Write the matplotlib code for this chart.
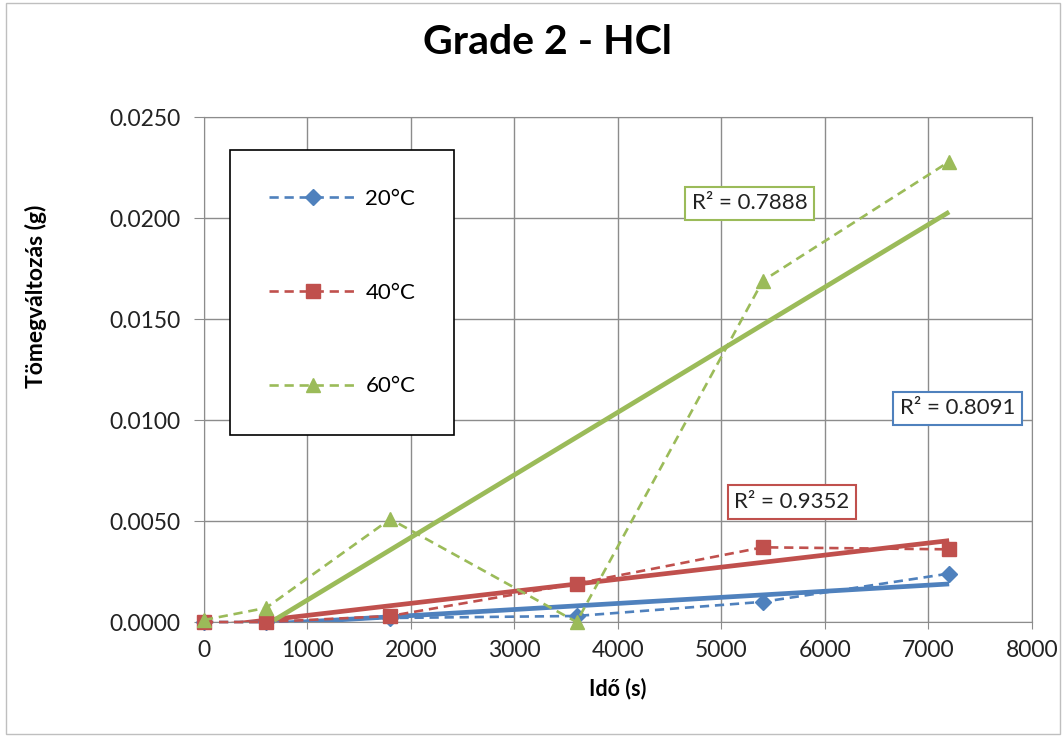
import numpy as np
import matplotlib
matplotlib.use("Agg")
import matplotlib.pyplot as plt

plt.rcParams["font.family"] = ["Lato", "DejaVu Sans"]

time_s = [0, 600, 1800, 3600, 5400, 7200]
y20 = [0.0000, 0.0000, 0.0002, 0.0003, 0.0010, 0.0024]
y40 = [0.0000, 0.0000, 0.0003, 0.0019, 0.0037, 0.0036]
y60 = [0.0001, 0.0007, 0.0051, 0.0000, 0.0169, 0.0228]
labels = ["20°C", "40°C", "60°C"]
r2_text = ["R² = 0.8091", "R² = 0.9352", "R² = 0.7888"]
r2_pos = [(7280, 0.01059), (5680, 0.00594), (5270, 0.02074)]

COLS = ["#4F81BD", "#C0504D", "#9BBB59"]
MARK = ["D", "s", "^"]
MS = [8, 10, 10.5]
GRID = "#8c8c8c"

fig = plt.figure(figsize=(10.64, 7.37), dpi=100)
ax = fig.add_axes([0.1917, 0.156, 0.7782, 0.685])
fig.patches.append(plt.Rectangle((0.006, 0.004), 0.99, 0.992, transform=fig.transFigure,
                                 fill=False, ec="#bfbfbf", lw=1))

x = np.array(time_s, dtype=float)
for ys, c, m, ms, lab in zip([y20, y40, y60], COLS, MARK, MS, labels):
    # linear trendline (least squares), drawn over data range, clipped at 0
    k, b = np.polyfit(x, ys, 1)
    ax.plot([x.min(), x.max()], [k * x.min() + b, k * x.max() + b], color=c, lw=3.4,
            solid_capstyle="butt", zorder=3)
    ax.plot(x, ys, ls=(0, (3.5, 2.2)), lw=1.9, color=c, marker=m, ms=ms, mec=c, mfc=c,
            label=lab, clip_on=False, zorder=4)

for t, (px, py), c in zip(r2_text, r2_pos, COLS):
    ax.text(px, py, t, ha="center", va="center", fontsize=16, color="#222222", zorder=6,
            bbox=dict(boxstyle="square,pad=0.3", fc="white", ec=c, lw=1.5))

ax.set_xlim(0, 8000)
ax.set_ylim(0, 0.025)
ax.set_xticks(np.arange(0, 8001, 1000))
ax.set_yticks(np.arange(0, 0.02501, 0.005))
ax.set_yticklabels([f"{v:.4f}" for v in np.arange(0, 0.02501, 0.005)])
ax.grid(True, color=GRID, lw=1)
ax.set_axisbelow(True)
for s in ax.spines.values():
    s.set_color(GRID)
ax.tick_params(axis="both", labelsize=16.5, colors=GRID, labelcolor="#222222", length=5, pad=8)
ax.tick_params(axis="y", direction="out", length=7, pad=10)

ax.set_xlabel("Idő (s)", fontsize=15.5, fontweight="bold", labelpad=12)
ax.set_ylabel("Tömegváltozás (g)", fontsize=16.5, fontweight="bold")
ax.yaxis.set_label_coords(-0.19, 0.646)
fig.text(0.515, 0.943, "Grade 2 - HCl", fontsize=29.5, fontweight="bold",
         ha="center", va="center")

leg = ax.legend(loc="upper left", bbox_to_anchor=(0.031, 0.935), fontsize=16,
                labelspacing=3.32, handlelength=4.0, handletextpad=0.36,
                borderpad=1.75, borderaxespad=0, fancybox=False, frameon=True)
leg.get_frame().set_edgecolor("black")
leg.get_frame().set_linewidth(1.2)
leg.get_frame().set_alpha(1)

fig.savefig("out.png", dpi=100)
